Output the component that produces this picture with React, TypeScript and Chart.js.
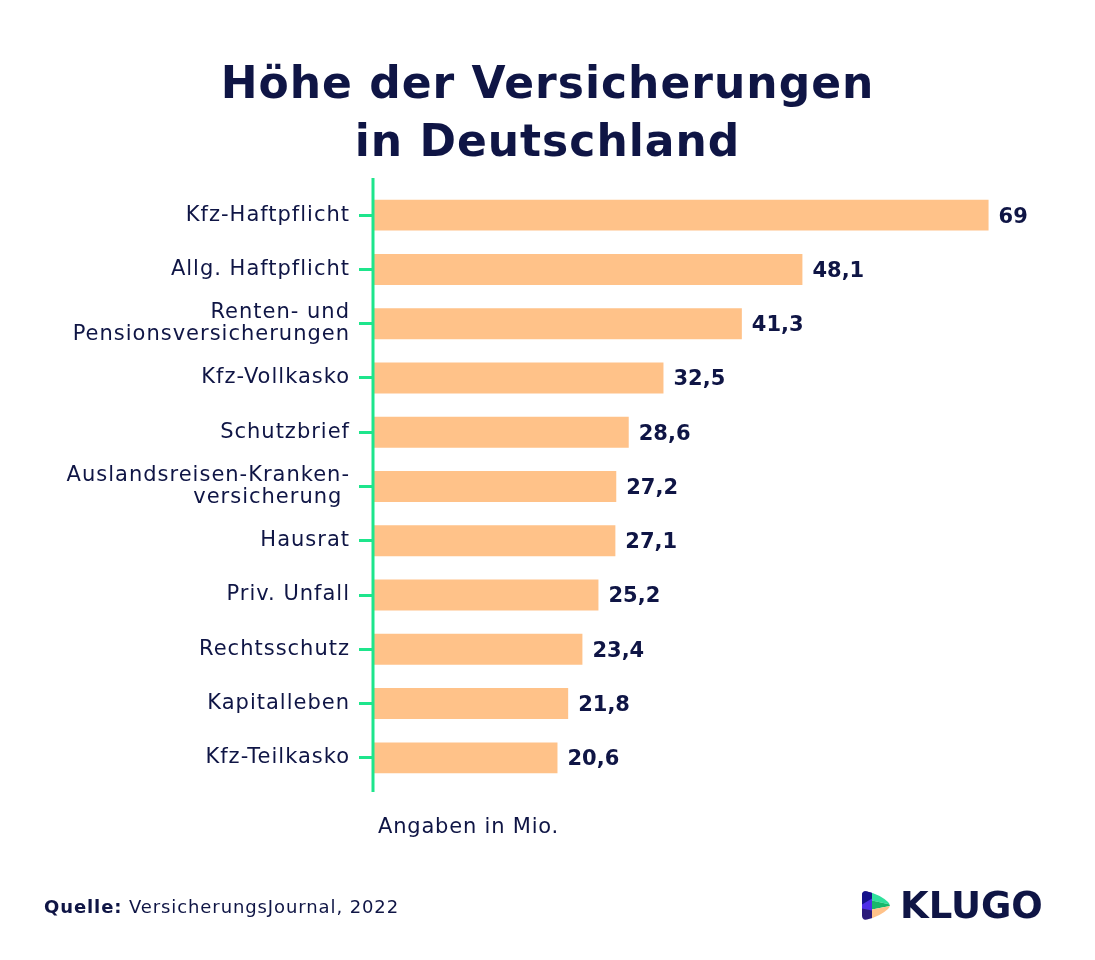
import React, { useEffect, useRef } from "react";
import { Chart, registerables } from "chart.js";

Chart.register(...registerables);

const categories: (string | string[])[] = [
  "Kfz-Haftpflicht",
  "Allg. Haftpflicht",
  ["Renten- und", "Pensionsversicherungen"],
  "Kfz-Vollkasko",
  "Schutzbrief",
  ["Auslandsreisen-Kranken-", "versicherung "],
  "Hausrat",
  "Priv. Unfall",
  "Rechtsschutz",
  "Kapitalleben",
  "Kfz-Teilkasko",
];
const values: number[] = [69, 48.1, 41.3, 32.5, 28.6, 27.2, 27.1, 25.2, 23.4, 21.8, 20.6];

const NAVY = "#0f1545";
const GREEN = "#1ee58c";
const BAR = "#ffc289";
const FONT = "'DejaVu Sans', 'Open Sans', sans-serif";

export default function App() {
  const ref = useRef<HTMLCanvasElement | null>(null);

  useEffect(() => {
    if (!ref.current) return;
    const spacing = {
      id: "spacing",
      beforeDraw(chart: any) {
        chart.ctx.letterSpacing = "1px";
      },
      afterDraw(chart: any) {
        chart.ctx.letterSpacing = "0px";
      },
    };
    const valueLabels = {
      id: "valueLabels",
      afterDatasetsDraw(chart: any) {
        const ctx = chart.ctx;
        const meta = chart.getDatasetMeta(0);
        ctx.save();
        ctx.letterSpacing = "0px";
        ctx.fillStyle = NAVY;
        ctx.font = `bold 21px ${FONT}`;
        ctx.textAlign = "left";
        ctx.textBaseline = "middle";
        meta.data.forEach((bar: any, i: number) => {
          const txt = String(values[i]).replace(".", ",");
          ctx.fillText(txt, bar.x + 10, bar.y + 2);
        });
        ctx.restore();
      },
    };
    const axisLine = {
      id: "axisLine",
      afterDraw(chart: any) {
        const ctx = chart.ctx;
        const a = chart.chartArea;
        ctx.save();
        ctx.strokeStyle = GREEN;
        ctx.lineWidth = 3;
        ctx.beginPath();
        ctx.moveTo(a.left - 1, a.top - 10);
        ctx.lineTo(a.left - 1, a.bottom + 7);
        ctx.stroke();
        ctx.restore();
      },
    };
    const chart = new Chart(ref.current, {
      type: "bar",
      data: {
        labels: categories,
        datasets: [
          {
            data: values,
            backgroundColor: BAR,
            borderWidth: 0,
            categoryPercentage: 1,
            barPercentage: 0.57,
          },
        ],
      },
      options: {
        indexAxis: "y",
        responsive: false,
        animation: false,
        layout: { padding: { left: 0, right: 53, top: 188, bottom: 175 } },
        plugins: {
          legend: { display: false },
          tooltip: { enabled: false },
        },
        scales: {
          x: { display: false, min: 0, max: 75 },
          y: {
            afterFit: (scale: any) => {
              scale.width = 374;
            },
            border: { display: false },
            grid: {
              offset: false,
              drawOnChartArea: false,
              drawTicks: true,
              tickLength: 15,
              color: GREEN,
              lineWidth: 3,
            },
            ticks: {
              color: NAVY,
              padding: 9,
              font: { family: FONT, size: 21, lineHeight: 1.05 },
            },
          },
        },
      },
      plugins: [spacing, valueLabels, axisLine],
    });
    return () => chart.destroy();
  }, []);

  return (
    <div style={{ position: "fixed", left: 0, top: 0, width: 1095, height: 960, background: "#fff", fontFamily: FONT, color: NAVY }}>
      <canvas ref={ref} width={1095} height={960} style={{ position: "absolute", left: 0, top: 0 }} />
      <div style={{ position: "absolute", left: 0, width: 1095, top: 54, textAlign: "center", fontWeight: 700, fontSize: 44, lineHeight: "58px", letterSpacing: 1 }}>
        Höhe der Versicherungen
        <br />
        in Deutschland
      </div>
      <div style={{ position: "absolute", left: 378, top: 814, fontSize: 21, letterSpacing: 0.8 }}>Angaben in Mio.</div>
      <div style={{ position: "absolute", left: 44, top: 896, fontSize: 18, letterSpacing: 0.9 }}>
        <b>Quelle:</b> VersicherungsJournal, 2022
      </div>
      <div style={{ position: "absolute", left: 862, top: 884, display: "flex", alignItems: "center" }}>
        <svg width="28" height="31" viewBox="0 0 28 30">
          <defs>
            <clipPath id="tri">
              <path d="M0 5 Q0 0 5 1 Q18 4 26 11.5 Q29.5 15 26 18.5 Q18 26 5 29 Q0 30 0 25 Z" />
            </clipPath>
          </defs>
          <g clipPath="url(#tri)">
            <rect x="0" y="0" width="10" height="30" fill="#2b1a7a" />
            <polygon points="0,0 10,0 10,10 0,14" fill="#15128c" />
            <polygon points="0,14 10,8 10,20 0,18" fill="#4d2ee8" />
            <polygon points="10,0 28,0 28,14 10,10" fill="#2fe09c" />
            <polygon points="10,10 28,14 28,15.5 10,19" fill="#17b86b" />
            <polygon points="10,19 28,15.5 28,30 10,30" fill="#ffc289" />
          </g>
        </svg>
        <span style={{ fontWeight: 700, fontSize: 37, marginLeft: 10 }}>KLUGO</span>
      </div>
    </div>
  );
}
